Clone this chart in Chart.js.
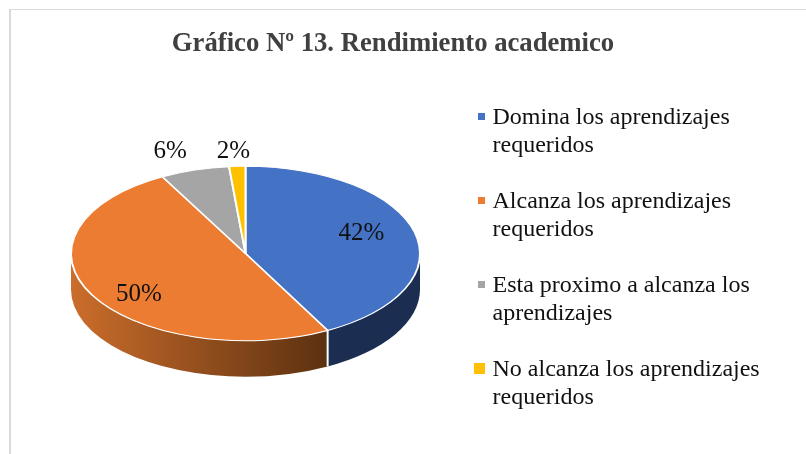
<!DOCTYPE html>
<html>
<head>
<meta charset="utf-8">
<script src="https://cdn.jsdelivr.net/npm/chart.js@4"></script>
<style>
  html, body { margin: 0; padding: 0; background: #fff; overflow: hidden; }
  #wrap { position: relative; width: 806px; height: 454px; }
  #frame { position: absolute; left: 9px; top: 9px; right: 0; bottom: 0; border-left: 2px solid #d9d9d9; border-top: 1px solid #d9d9d9; }
  canvas { position: absolute; left: 0; top: 0; }
  #legend { position: absolute; left: 492.5px; top: 102px; width: 300px; font: 24px/28px "Liberation Serif", serif; color: #111; }
  #legend div { position: relative; margin-bottom: 28px; }
  #legend i { position: absolute; display: block; }
</style>
</head>
<body>
<div id="wrap">
  <div id="frame"></div>
  <canvas id="pie" width="806" height="454"></canvas>
  <div id="legend"></div>
</div>
<script>
// Data (slice sizes, the labels show them rounded)
const categories = [
  "Domina los aprendizajes requeridos",
  "Alcanza los aprendizajes requeridos",
  "Esta proximo a alcanza los aprendizajes",
  "No alcanza los aprendizajes requeridos"
];
const values = [42.2, 49.9, 6.4, 1.5];
const colors = ["#4472C4", "#EB7C32", "#A5A5A5", "#FFC000"];
const titleText = "Gráfico Nº 13. Rendimiento academico";

// Pie shape
const centerX = 245.5, centerY = 253.5, radius = 174.5;
const squash = 0.5;   // tilt of the pie
const depth = 36;     // height of the side wall

// Nudges for the % labels, from the spot on the slice
const labelFraction = [0.69, 0.70, 1.1, 1.1];
const labelNudge = [[-1, -5], [1, 12], [-19.5, -10], [-3, -6]];
const markerSize = [7, 7, 7, 11];

// Side wall of the pie, only the front half can be seen
function drawSide(ctx, arc, i) {
  const a0 = Math.max(arc.startAngle, 0);
  const a1 = Math.min(arc.endAngle, Math.PI);
  if (a1 <= a0) return;
  const ry = radius * squash;

  ctx.beginPath();
  ctx.ellipse(centerX, centerY, radius, ry, 0, a0, a1);
  ctx.ellipse(centerX, centerY + depth, radius, ry, 0, a1, a0, true);
  ctx.closePath();

  if (i === 0) {
    ctx.fillStyle = "#1B2D50";
  } else {
    const g = ctx.createLinearGradient(centerX - radius, 0, centerX + radius * Math.cos(a0), 0);
    g.addColorStop(0, "#CB6D2B");
    g.addColorStop(1, "#5C3110");
    ctx.fillStyle = g;
  }
  ctx.fill();

  // white line where two walls meet
  if (arc.startAngle > 0 && arc.startAngle < Math.PI) {
    const x = centerX + radius * Math.cos(a0);
    const y = centerY + ry * Math.sin(a0);
    ctx.beginPath();
    ctx.moveTo(x, y);
    ctx.lineTo(x, y + depth);
    ctx.strokeStyle = "#fff";
    ctx.lineWidth = 2;
    ctx.stroke();
  }
}

const tiltPlugin = {
  id: "tilt",
  afterLayout(chart) {
    // move the pie off to the left of the legend
    const r = radius + 1;
    chart.chartArea = {
      left: centerX - r, right: centerX + r, top: centerY - r, bottom: centerY + r,
      width: r * 2, height: r * 2
    };
  },
  beforeDatasetsDraw(chart) {
    const ctx = chart.ctx;
    const arcs = chart.getDatasetMeta(0).data;
    arcs.forEach((arc, i) => drawSide(ctx, arc, i));
    ctx.save();
    ctx.translate(centerX, centerY);
    ctx.scale(1, squash);
    ctx.translate(-centerX, -centerY);
  },
  afterDatasetsDraw(chart) {
    const ctx = chart.ctx;
    ctx.restore();

    // % labels
    ctx.save();
    ctx.font = '25px "Liberation Serif", serif';
    ctx.fillStyle = "#111";
    ctx.textAlign = "center";
    ctx.textBaseline = "middle";
    chart.getDatasetMeta(0).data.forEach((arc, i) => {
      const mid = (arc.startAngle + arc.endAngle) / 2;
      const d = radius * labelFraction[i];
      const x = centerX + d * Math.cos(mid) + labelNudge[i][0];
      const y = centerY + d * squash * Math.sin(mid) + labelNudge[i][1];
      ctx.fillText(Math.round(values[i]) + "%", x, y);
    });
    ctx.restore();
  }
};

new Chart(document.getElementById("pie").getContext("2d"), {
  type: "pie",
  data: {
    labels: categories,
    datasets: [{
      data: values,
      backgroundColor: colors,
      borderColor: "#fff",
      borderWidth: 2,
      clip: false
    }]
  },
  options: {
    responsive: false,
    animation: false,
    layout: { padding: { right: 20, top: 28 } },
    plugins: {
      legend: { display: false },
      tooltip: { enabled: false },
      title: {
        display: true,
        text: titleText,
        color: "#404040",
        font: { family: '"Liberation Serif", serif', size: 26.7, weight: "bold" },
        padding: 0
      }
    }
  },
  plugins: [tiltPlugin]
});

// Legend
const legend = document.getElementById("legend");
categories.forEach((name, i) => {
  const item = document.createElement("div");
  const mark = document.createElement("i");
  const s = markerSize[i];
  mark.style.width = s + "px";
  mark.style.height = s + "px";
  mark.style.left = (-7.5 - s) + "px";
  mark.style.top = (14 - s / 2) + "px";
  mark.style.background = colors[i];
  item.appendChild(mark);
  item.appendChild(document.createTextNode(name));
  legend.appendChild(item);
});
</script>
</body>
</html>
